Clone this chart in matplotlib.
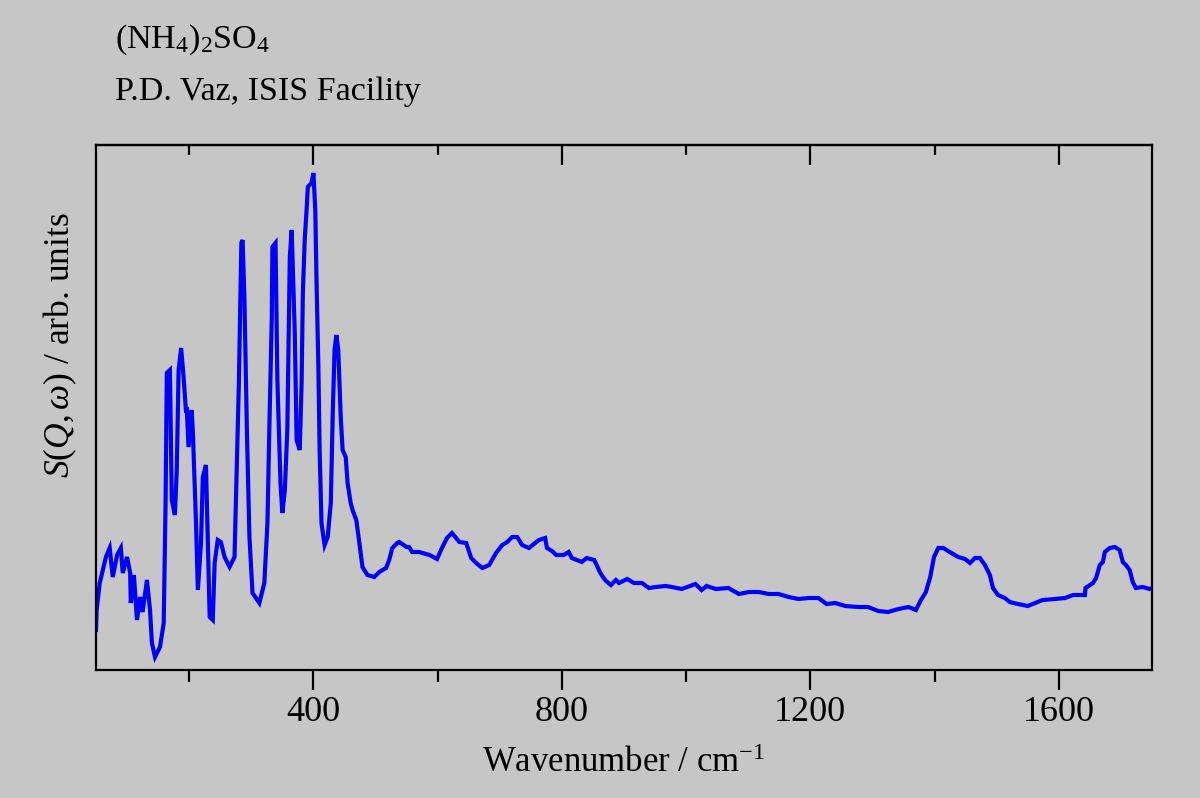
import matplotlib
matplotlib.use("Agg")
import matplotlib.pyplot as plt
from matplotlib.ticker import MultipleLocator
import numpy as np

plt.rcParams['font.family'] = ['Liberation Serif', 'DejaVu Serif']
plt.rcParams['mathtext.fontset'] = 'custom'
plt.rcParams['mathtext.rm'] = 'Liberation Serif'
plt.rcParams['mathtext.it'] = 'Liberation Serif:italic'

# ==========================================
# DATA
# ==========================================
wavenumber = [
    50, 51, 56, 61, 66, 72, 77, 84, 90, 93, 100, 105, 106, 111, 116, 121, 125, 132, 137, 140,
    145, 153, 159, 162, 164, 169, 172, 177, 180, 183, 187, 191, 195, 196, 199, 204, 206, 211, 214, 219,
    222, 227, 230, 233, 238, 241, 246, 251, 257, 265, 273, 276, 280, 284, 286, 289, 293, 297, 302, 313,
    321, 326, 329, 333, 334, 339, 342, 347, 350, 354, 358, 362, 365, 366, 370, 373, 378, 381, 383, 386,
    389, 391, 397, 400, 403, 405, 408, 410, 413, 418, 423, 428, 431, 434, 437, 440, 444, 447, 452, 455,
    460, 463, 469, 474, 479, 487, 498, 506, 517, 522, 527, 535, 538, 550, 554, 559, 570, 587, 599, 607,
    615, 623, 635, 646, 654, 662, 672, 683, 694, 704, 712, 720, 728, 736, 747, 763, 773, 776, 784, 791,
    803, 811, 816, 832, 840, 852, 856, 861, 866, 871, 879, 887, 892, 905, 916, 929, 940, 951, 967, 977,
    993, 1015, 1025, 1033, 1048, 1068, 1085, 1101, 1117, 1133, 1149, 1165, 1181, 1197, 1213, 1226, 1240, 1256, 1277, 1293,
    1309, 1325, 1342, 1358, 1370, 1378, 1386, 1393, 1399, 1406, 1414, 1427, 1438, 1449, 1457, 1465, 1473, 1481, 1489, 1494,
    1502, 1513, 1521, 1534, 1550, 1562, 1574, 1594, 1610, 1623, 1642, 1643, 1655, 1660, 1666, 1671, 1674, 1682, 1690, 1698,
    1703, 1708, 1714, 1719, 1724, 1735, 1746, 1750,
]
intensity = [
    40, 60, 87, 100, 113, 122, 93, 115, 122, 97, 113, 97, 67, 95, 50, 73, 58, 90, 60, 27,
    13, 23, 47, 167, 297, 300, 170, 155, 200, 300, 322, 293, 257, 263, 223, 260, 237, 147, 80, 127,
    193, 205, 130, 53, 50, 107, 130, 128, 113, 103, 113, 187, 287, 427, 430, 370, 237, 133, 77, 67,
    87, 147, 240, 353, 423, 427, 290, 187, 157, 180, 240, 413, 440, 420, 337, 230, 220, 287, 377, 430,
    460, 483, 487, 497, 460, 390, 303, 220, 147, 125, 133, 167, 253, 320, 335, 320, 253, 220, 213, 187,
    167, 160, 150, 127, 103, 95, 93, 98, 102, 110, 122, 127, 128, 123, 123, 118, 118, 115, 111, 122,
    132, 137, 128, 127, 112, 107, 102, 105, 117, 125, 128, 133, 133, 125, 122, 130, 132, 122, 119, 115,
    115, 118, 112, 108, 112, 110, 105, 98, 93, 89, 85, 90, 87, 91, 87, 87, 82, 83, 84, 83,
    81, 86, 80, 84, 81, 82, 76, 78, 78, 76, 76, 73, 71, 72, 72, 66, 67, 64, 63, 63,
    59, 58, 61, 63, 60, 70, 78, 93, 113, 122, 122, 117, 113, 111, 107, 112, 112, 105, 95, 82,
    75, 72, 68, 66, 64, 67, 70, 71, 72, 75, 75, 82, 87, 92, 105, 108, 118, 122, 123, 120,
    108, 105, 100, 88, 82, 83, 81, 82,
]

x_major = [400, 800, 1200, 1600]

# ==========================================
# FIGURE
# ==========================================
bg = '#c6c6c6'
fig = plt.figure(figsize=(12, 7.98), dpi=100, facecolor=bg)
ax = fig.add_axes([0.08, 0.1604, 0.88, 0.6579])
ax.set_facecolor(bg)

ax.plot(wavenumber, intensity, color='#0000ff', linewidth=3.0, solid_joinstyle='miter')

ax.set_xlim(50, 1750)
ax.set_ylim(0, 525)
ax.set_xticks(x_major)
ax.xaxis.set_minor_locator(MultipleLocator(200))
ax.set_yticks([])

for s in ax.spines.values():
    s.set_linewidth(1.6)

ax.tick_params(axis='x', which='major', direction='out', length=14.5, width=1.6,
               labelsize=26, pad=4, top=False)
ax.tick_params(axis='x', which='minor', direction='out', length=8.5, width=1.6, top=False)

# top axis: inward ticks, no labels
top = ax.secondary_xaxis('top')
top.set_xticks(x_major)
top.xaxis.set_minor_locator(MultipleLocator(200))
top.tick_params(which='major', direction='in', length=14.5, width=1.6, labeltop=False)
top.tick_params(which='minor', direction='in', length=7.5, width=1.6)
top.spines['top'].set_linewidth(1.6)

# labels
fig.text(0.52, (798 - 772) / 798, 'Wavenumber / cm$^{-1}$', fontsize=25,
         ha='center', va='baseline')
fig.text(60 / 1200, (798 - 345) / 798, '$S(Q,\\omega)$ / arb. units', fontsize=25.5,
         rotation=90, ha='center', va='center')

fig.text(115 / 1200, (798 - 48) / 798, '(NH$_4$)$_2$SO$_4$', fontsize=24.5, va='baseline')
fig.text(115 / 1200, (798 - 100) / 798, 'P.D. Vaz, ISIS Facility', fontsize=24.5, va='baseline')

fig.savefig('out.png', dpi=100, facecolor=bg)
